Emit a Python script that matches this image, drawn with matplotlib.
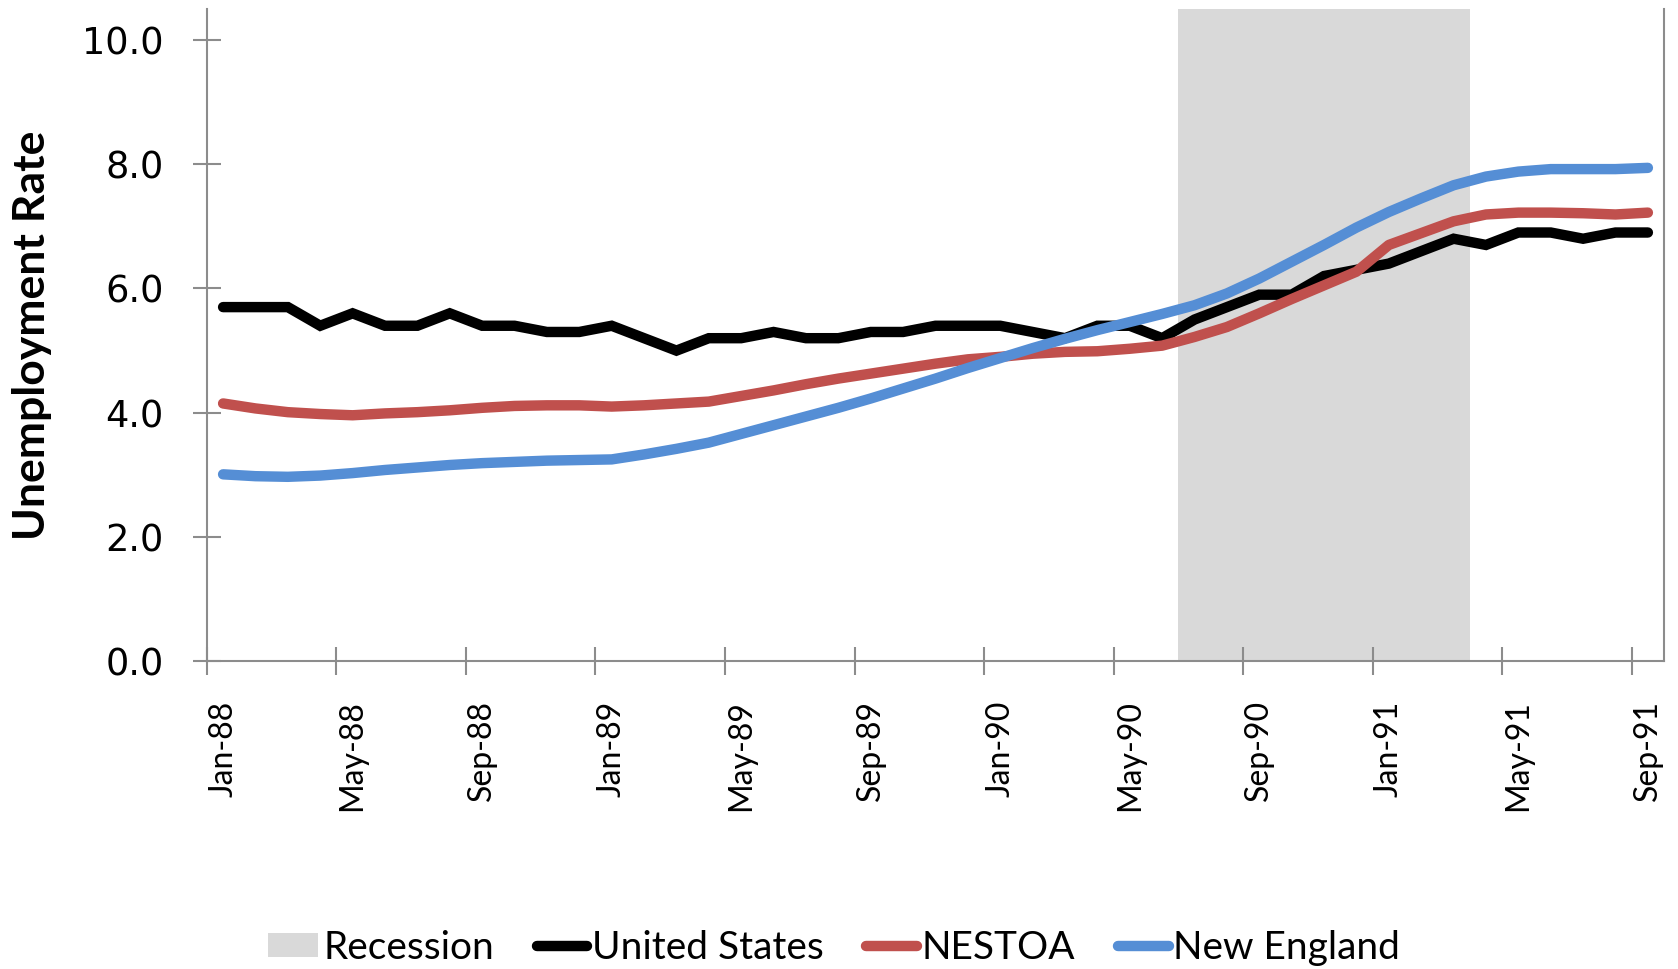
import numpy as np
import pandas as pd
import matplotlib
matplotlib.use("Agg")
import matplotlib.pyplot as plt
from matplotlib.lines import Line2D
from matplotlib.patches import Patch

# ---------------- data ----------------
months = pd.date_range("1988-01-01", periods=45, freq="MS")
month_labels = [d.strftime("%b-%y") for d in months]

united_states = [5.7, 5.7, 5.7, 5.4, 5.6, 5.4, 5.4, 5.6, 5.4, 5.4, 5.3, 5.3,
                 5.4, 5.2, 5.0, 5.2, 5.2, 5.3, 5.2, 5.2, 5.3, 5.3, 5.4, 5.4,
                 5.4, 5.3, 5.2, 5.4, 5.4, 5.2, 5.5, 5.7, 5.9, 5.9, 6.2, 6.3,
                 6.4, 6.6, 6.8, 6.7, 6.9, 6.9, 6.8, 6.9, 6.9]

nestoa = [4.15, 4.07, 4.01, 3.98, 3.96, 3.99, 4.01, 4.04, 4.08, 4.11, 4.12, 4.12,
          4.10, 4.12, 4.15, 4.18, 4.27, 4.36, 4.46, 4.55, 4.63, 4.71, 4.79, 4.86,
          4.90, 4.95, 4.98, 4.99, 5.03, 5.08, 5.22, 5.38, 5.60, 5.83, 6.05, 6.27,
          6.70, 6.89, 7.08, 7.19, 7.22, 7.22, 7.21, 7.19, 7.22]

new_england = [3.01, 2.98, 2.97, 2.99, 3.03, 3.08, 3.12, 3.16, 3.19, 3.21, 3.23, 3.24,
               3.25, 3.33, 3.42, 3.52, 3.66, 3.80, 3.94, 4.08, 4.23, 4.39, 4.55, 4.72,
               4.88, 5.04, 5.19, 5.33, 5.46, 5.59, 5.73, 5.92, 6.16, 6.43, 6.70, 6.98,
               7.23, 7.45, 7.66, 7.80, 7.88, 7.92, 7.92, 7.92, 7.94]

# recession months (Jul-90 .. Mar-91) drawn as full-height bars
recession = [0.0] * 30 + [10.5] * 9 + [0.0] * 6

y_ticks = [0.0, 2.0, 4.0, 6.0, 8.0, 10.0]

# ---------------- styling ----------------
C_US = "#000000"
C_NE = "#C0504D"
C_NEW = "#558ED5"
C_REC = "#D9D9D9"
C_AX = "#8C8C8C"
LW = 7.5

fig = plt.figure(figsize=(16.78, 9.69), dpi=100)
ax = fig.add_axes([0.1233, 0.3174, 0.8684, 0.6736])

x = np.arange(len(months))
ax.bar(x, recession, width=1.0, color=C_REC, zorder=0, linewidth=0)
ax.plot(x, united_states, color=C_US, lw=LW, solid_capstyle="round", solid_joinstyle="miter", zorder=3)
ax.plot(x, nestoa, color=C_NE, lw=LW, solid_capstyle="round", solid_joinstyle="round", zorder=3)
ax.plot(x, new_england, color=C_NEW, lw=LW, solid_capstyle="round", solid_joinstyle="round", zorder=3)

ax.set_xlim(-0.5, len(months) - 0.5)
ax.set_ylim(0, 10.5)

# y axis
ax.set_yticks(y_ticks)
ax.set_yticklabels([f"{v:.1f}" for v in y_ticks], fontfamily="DejaVu Sans", fontsize=26.5)
ax.tick_params(axis="y", direction="inout", length=20, width=1.5, color=C_AX, pad=21)

# x axis: tick marks at month boundaries, labels centered on months
ax.set_xticks(np.arange(-0.5, len(months) - 1, 4))
ax.set_xticklabels([])
ax.set_xticks(x[::4], minor=True)
ax.set_xticklabels(month_labels[::4], minor=True, rotation=90,
                   fontfamily="Lato", fontsize=23, va="top", ha="center")
ax.tick_params(axis="x", which="major", direction="inout", length=20, width=1.5, color=C_AX)
ax.tick_params(axis="x", which="minor", length=0, pad=28)

for s in ["left", "bottom", "right"]:
    ax.spines[s].set_color(C_AX)
    ax.spines[s].set_linewidth(1.5)
ax.spines["top"].set_visible(False)
ax.spines["bottom"].set_zorder(4)

ax.set_ylabel("Unemployment Rate", fontfamily="Lato", fontweight="bold", fontsize=32)
ax.yaxis.set_label_coords(-0.106, 0.5)

handles = [
    Patch(facecolor=C_REC, edgecolor="none"),
    Line2D([0], [0], color=C_US, lw=LW, solid_capstyle="round"),
    Line2D([0], [0], color=C_NE, lw=LW, solid_capstyle="round"),
    Line2D([0], [0], color=C_NEW, lw=LW, solid_capstyle="round"),
]
labels = ["Recession", "United States", "NESTOA", "New England"]
leg = fig.legend(handles, labels, loc="center", bbox_to_anchor=(0.497, 0.022), ncol=4,
                 frameon=False, prop={"family": "Lato", "size": 28},
                 handlelength=1.3, handleheight=0.57, handletextpad=0.12,
                 columnspacing=1.1, borderpad=0.0)

fig.savefig("out.png", dpi=100)
